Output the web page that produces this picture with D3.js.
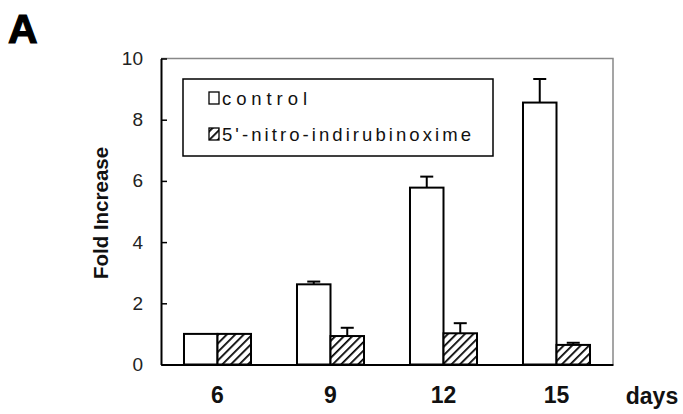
<!DOCTYPE html>
<html><head><meta charset="utf-8">
<script src="https://cdn.jsdelivr.net/npm/d3@7"></script>
<style>body{margin:0;background:#fff}svg{display:block}</style>
</head><body>
<svg id="c" width="683" height="414"></svg>
<script>
const days = ["6","9","12","15"];
const seriesNames = ["control","5'-nitro-indirubinoxime"];
const controlValues = [1.0, 2.62, 5.78, 8.56];
const controlErrors = [0, 0.09, 0.36, 0.77];
const treatedValues = [1.0, 0.93, 1.02, 0.64];
const treatedErrors = [0, 0.27, 0.33, 0.07];
const yTicks = [0,2,4,6,8,10];

const svg = d3.select("#c");
const L=161, R=613, T=58.5, B=364.5;
const font = "Liberation Sans, Arial, sans-serif";

const defs = svg.append("defs");
const pat = defs.append("pattern").attr("id","hatch").attr("patternUnits","userSpaceOnUse")
  .attr("width",6).attr("height",6).attr("patternTransform","rotate(45)");
pat.append("rect").attr("width",6).attr("height",6).attr("fill","#fff");
pat.append("line").attr("x1",0).attr("y1",0).attr("x2",0).attr("y2",6).attr("stroke","#000").attr("stroke-width",3.5);

const x = d3.scaleBand().domain(days).range([L,R]).paddingInner(0.407).paddingOuter(0.2035);
const xs = d3.scaleBand().domain(seriesNames).range([0,x.bandwidth()]);
const y = d3.scaleLinear().domain([0,10]).range([B,T]);

svg.append("path").attr("d",`M${L},${T}H${R}V${B}`).attr("fill","none").attr("stroke","#888").attr("stroke-width",1.5);

const data = days.map((d,i)=>[
  {day:d, s:seriesNames[0], v:controlValues[i], e:controlErrors[i]},
  {day:d, s:seriesNames[1], v:treatedValues[i], e:treatedErrors[i]}
]).flat();

const g = svg.append("g");
data.filter(d=>d.e>0).forEach(d=>{
  const cx = x(d.day)+xs(d.s)+xs.bandwidth()/2;
  g.append("line").attr("x1",cx).attr("x2",cx).attr("y1",y(d.v)).attr("y2",y(d.v+d.e)).attr("stroke","#000").attr("stroke-width",2);
  g.append("line").attr("x1",cx-6.5).attr("x2",cx+6.5).attr("y1",y(d.v+d.e)).attr("y2",y(d.v+d.e)).attr("stroke","#000").attr("stroke-width",2);
});
g.selectAll("rect.bar").data(data).join("rect").attr("class","bar")
  .attr("x",d=>x(d.day)+xs(d.s)).attr("width",xs.bandwidth())
  .attr("y",d=>y(d.v)).attr("height",d=>y(0)-y(d.v))
  .attr("fill",d=>d.s===seriesNames[0]?"#fff":"url(#hatch)")
  .attr("stroke","#000").attr("stroke-width",2);

const ya = svg.append("g").attr("transform",`translate(${L},0)`)
  .call(d3.axisLeft(y).tickValues(yTicks).tickFormat(d3.format("d")).tickSizeInner(-6).tickSizeOuter(0).tickPadding(18));
ya.select(".domain").attr("stroke","#000").attr("stroke-width",2);
ya.selectAll(".tick line").attr("stroke","#000").attr("stroke-width",1.5);
ya.selectAll("text").attr("font-family",font).attr("font-size",19).attr("fill","#222");

const xa = svg.append("g").attr("transform",`translate(0,${B})`)
  .call(d3.axisBottom(x).tickSize(0).tickPadding(22));
xa.select(".domain").attr("stroke","#000").attr("stroke-width",2);
xa.selectAll("text").attr("font-family",font).attr("font-size",23).attr("font-weight","bold").attr("fill","#111");

svg.append("text").attr("x",652).attr("y",404).attr("text-anchor","middle")
  .attr("font-family",font).attr("font-size",23).attr("font-weight","bold").attr("fill","#111").text("days");

svg.append("text").attr("transform","translate(108,213) rotate(-90)").attr("text-anchor","middle")
  .attr("font-family",font).attr("font-size",20.5).attr("font-weight","bold").attr("fill","#111").text("Fold Increase");

svg.append("text").attr("x",8).attr("y",43).attr("font-family",font).attr("font-size",41).attr("font-weight","bold")
  .attr("stroke","#000").attr("stroke-width",1.2).text("A");

const lg = svg.append("g");
lg.append("rect").attr("x",183).attr("y",79).attr("width",310).attr("height",77).attr("fill","#fff").attr("stroke","#000").attr("stroke-width",1.5);
const legendTextLen = [85, 249];
seriesNames.forEach((s,i)=>{
  const yy = 92 + i*36;
  lg.append("rect").attr("x",209).attr("y",yy).attr("width",10).attr("height",12)
    .attr("fill",i===0?"#fff":"url(#hatch)").attr("stroke","#000").attr("stroke-width",1.3);
  lg.append("text").attr("x",222).attr("y",yy+13).attr("font-family",font).attr("font-size",18.5)
    .attr("textLength",legendTextLen[i]).attr("lengthAdjust","spacing").attr("fill","#111").text(s);
});
</script>
</body></html>
